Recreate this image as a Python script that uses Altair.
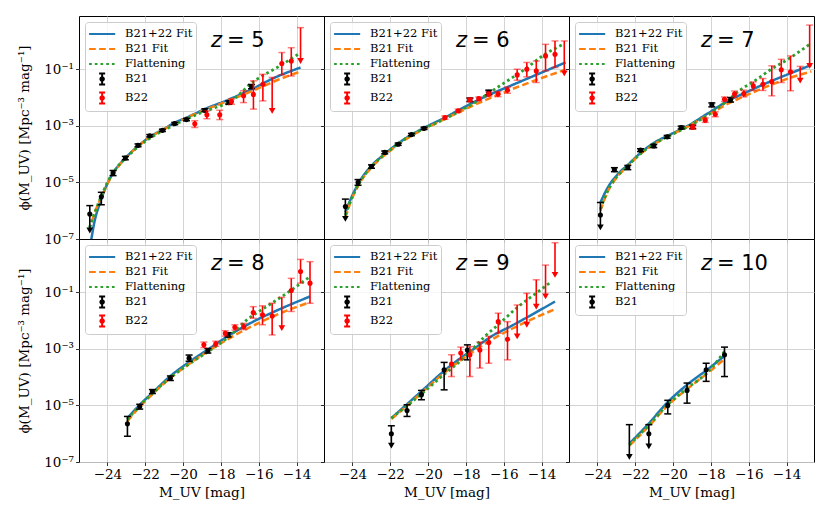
import math
import altair as alt
import pandas as pd

# ---------------- axes ----------------
X_DOMAIN = [-25.5, -12.55]
Y_DOMAIN = [1e-7, 7.6]
X_TICKS = [-24, -22, -20, -18, -16, -14]
X_TICK_LABELS = ["−24", "−22", "−20", "−18", "−16", "−14"]
Y_TICKS = [1e-7, 1e-5, 1e-3, 1e-1]
Y_TICK_LABELS = ["10⁻⁷", "10⁻⁵", "10⁻³", "10⁻¹"]
X_TITLE = "M_UV [mag]"
Y_TITLE = "ϕ(M_UV) [Mpc⁻³ mag⁻¹]"

REDSHIFTS = [5, 6, 7, 8, 9, 10]
SERIES = ["B21+22 Fit", "B21 Fit", "Flattening", "B21", "B22"]
SERIES_COLORS = ["#1f77b4", "#ff7f0e", "#2ca02c", "#000000", "#ff0000"]
Z_LABEL_POS = (-17.1, 1.0)

# ---------------- model curves: (M_UV, log10 phi) ----------------
FIT_B2122 = {
    5: [(-24.87, -7.1), (-24.67, -6.35), (-24.41, -5.76), (-24.05, -5.12), (-23.70, -4.67),
        (-23.05, -4.14), (-22.38, -3.72), (-21.76, -3.39), (-21.09, -3.14), (-20.44, -2.89),
        (-19.82, -2.71), (-18.85, -2.41), (-17.58, -2.07), (-16.38, -1.71), (-15.23, -1.32),
        (-13.79, -0.94)],
    6: [(-24.37, -6.06), (-24.05, -5.53), (-23.70, -5.06), (-22.99, -4.41), (-22.29, -4.0),
        (-21.58, -3.62), (-20.88, -3.32), (-20.17, -3.06), (-19.11, -2.71), (-18.06, -2.33),
        (-16.82, -1.92), (-15.59, -1.57), (-14.18, -1.17), (-12.73, -0.76)],
    7: [(-23.84, -5.71), (-23.45, -5.18), (-22.92, -4.71), (-22.39, -4.38), (-21.69, -3.94),
        (-20.98, -3.59), (-20.28, -3.35), (-19.22, -3.0), (-18.16, -2.56), (-17.10, -2.12),
        (-16.05, -1.79), (-14.99, -1.47), (-13.93, -1.18), (-12.69, -0.85)],
    8: [(-22.94, -5.45), (-22.29, -4.98), (-21.58, -4.53), (-20.70, -3.98), (-19.64, -3.45),
        (-18.59, -2.98), (-17.53, -2.51), (-16.29, -2.04), (-15.06, -1.65), (-13.29, -1.15)],
    9: [(-21.94, -5.45), (-21.05, -4.92), (-20.17, -4.39), (-19.29, -3.86), (-18.41, -3.39),
        (-17.53, -2.98), (-16.65, -2.56), (-15.59, -2.19), (-14.53, -1.80), (-13.29, -1.33)],
    10: [(-22.31, -6.35), (-21.34, -5.68), (-20.28, -4.88), (-19.22, -4.25), (-18.16, -3.72),
         (-17.28, -3.25)],
}
FIT_B21 = {
    5: [(-24.97, -6.72), (-24.6, -5.95), (-24.3, -5.5), (-24.0, -5.05), (-23.5, -4.5),
        (-23.0, -4.12), (-22.0, -3.52), (-21.0, -3.12), (-20.0, -2.78), (-19.0, -2.48),
        (-18.0, -2.22), (-17.0, -1.95), (-16.0, -1.67), (-15.0, -1.38), (-13.79, -1.08)],
    6: [(-24.37, -6.24), (-24.05, -5.62), (-23.70, -5.12), (-23.0, -4.48), (-22.0, -3.88),
        (-21.0, -3.40), (-20.0, -3.05), (-19.0, -2.72), (-18.0, -2.40), (-17.0, -2.10),
        (-16.0, -1.82), (-15.0, -1.56), (-14.0, -1.31), (-12.73, -1.02)],
    7: [(-23.84, -6.0), (-23.45, -5.32), (-22.92, -4.78), (-22.39, -4.42), (-21.69, -3.98),
        (-20.98, -3.64), (-20.28, -3.38), (-19.22, -3.03), (-18.16, -2.62), (-17.10, -2.22),
        (-16.05, -1.90), (-14.99, -1.60), (-13.93, -1.33), (-12.69, -1.08)],
    8: [(-22.94, -5.56), (-22.29, -5.05), (-21.58, -4.58), (-20.70, -4.05), (-19.64, -3.52),
        (-18.59, -3.05), (-17.53, -2.62), (-16.29, -2.18), (-15.06, -1.80), (-13.29, -1.35)],
    9: [(-21.94, -5.48), (-21.05, -4.98), (-20.17, -4.45), (-19.29, -3.93), (-18.41, -3.47),
        (-17.53, -3.06), (-16.65, -2.68), (-15.59, -2.30), (-14.53, -1.96), (-13.29, -1.60)],
    10: [(-22.31, -6.42), (-21.34, -5.78), (-20.28, -5.0), (-19.22, -4.40), (-18.16, -3.85),
         (-17.28, -3.36)],
}
FLATTENING = {
    5: [(-24.95, -6.6), (-24.6, -5.95), (-24.3, -5.45), (-24.0, -5.0), (-23.5, -4.48),
        (-23.0, -4.12), (-22.0, -3.55), (-21.0, -3.15), (-20.0, -2.82), (-19.0, -2.53),
        (-18.3, -2.36), (-17.5, -2.15), (-16.87, -1.79), (-16.47, -1.53), (-15.94, -1.29),
        (-14.88, -0.88), (-13.91, -0.47)],
    6: [(-24.37, -6.15), (-24.05, -5.58), (-23.70, -5.1), (-23.0, -4.45), (-22.0, -3.85),
        (-21.0, -3.37), (-20.0, -3.03), (-19.0, -2.72), (-18.06, -2.38), (-17.5, -2.17),
        (-17.0, -1.94), (-15.94, -1.47), (-14.88, -1.0), (-13.82, -0.47), (-12.85, -0.12)],
    7: [(-23.84, -5.94), (-23.45, -5.3), (-22.92, -4.76), (-22.39, -4.41), (-21.69, -3.97),
        (-20.98, -3.63), (-20.28, -3.38), (-19.22, -3.03), (-18.16, -2.62), (-17.10, -2.10),
        (-16.40, -1.71), (-15.69, -1.41), (-14.81, -1.0), (-13.93, -0.65), (-12.78, -0.12)],
    8: [(-22.94, -5.5), (-22.29, -5.0), (-21.58, -4.55), (-20.70, -4.03), (-19.64, -3.52),
        (-18.59, -3.06), (-17.53, -2.55), (-16.63, -1.98), (-15.59, -1.51), (-14.53, -1.04),
        (-13.29, -0.45)],
    9: [(-21.94, -5.45), (-21.05, -4.98), (-20.17, -4.50), (-19.29, -3.98), (-18.41, -3.50),
        (-17.70, -3.04), (-17.0, -2.56), (-16.29, -2.15), (-15.32, -1.56), (-14.18, -0.98),
        (-13.47, -0.62)],
    10: [(-22.31, -6.39), (-21.34, -5.74), (-20.28, -4.97), (-19.22, -4.38), (-18.16, -3.82),
         (-17.28, -3.09)],
}

# ---------------- measurements: (M_UV, log10 phi, log10 low, log10 high) ----------------
B21_POINTS = {
    5: [(-24.32, -5.51, -5.79, -5.35), (-23.70, -4.67, -4.76, -4.58), (-23.05, -4.14, -4.20, -4.08),
        (-22.38, -3.69, -3.74, -3.64), (-21.76, -3.35, -3.39, -3.31), (-21.09, -3.16, -3.20, -3.12),
        (-20.44, -2.92, -2.96, -2.88), (-19.82, -2.78, -2.82, -2.74), (-18.85, -2.45, -2.50, -2.40),
        (-17.58, -2.18, -2.24, -2.12), (-16.38, -1.61, -1.69, -1.54)],
    6: [(-23.70, -5.00, -5.10, -4.90), (-22.99, -4.44, -4.50, -4.38), (-22.29, -3.94, -3.99, -3.89),
        (-21.58, -3.65, -3.69, -3.61), (-20.88, -3.31, -3.35, -3.27), (-20.21, -3.09, -3.13, -3.05),
        (-17.79, -2.08, -2.14, -2.02), (-16.79, -1.82, -1.90, -1.74)],
    7: [(-23.10, -4.55, -4.62, -4.48), (-22.39, -4.47, -4.55, -4.40), (-21.72, -3.86, -3.91, -3.81),
        (-21.02, -3.71, -3.77, -3.66), (-20.31, -3.39, -3.44, -3.34), (-19.57, -3.06, -3.11, -3.01),
        (-18.96, -3.04, -3.10, -2.98), (-17.95, -2.26, -2.33, -2.19), (-16.96, -2.08, -2.16, -2.00)],
    8: [(-22.94, -5.65, -6.09, -5.39), (-22.29, -5.04, -5.13, -4.96), (-21.62, -4.51, -4.58, -4.44),
        (-20.67, -4.04, -4.12, -3.96), (-19.68, -3.33, -3.44, -3.22), (-18.69, -3.07, -3.15, -2.99),
        (-17.62, -2.51, -2.58, -2.43)],
    9: [(-21.11, -5.18, -5.39, -4.98), (-20.35, -4.62, -4.80, -4.47), (-19.15, -3.74, -4.45, -3.48),
        (-17.92, -3.04, -3.39, -2.86)],
    10: [(-20.28, -5.00, -5.30, -4.82), (-19.26, -4.47, -4.92, -4.21), (-18.25, -3.74, -4.15, -3.51),
         (-17.28, -3.21, -3.98, -2.94)],
}
B22_POINTS = {
    5: [(-19.38, -2.93, -3.06, -2.82), (-18.74, -2.61, -2.75, -2.47), (-18.06, -2.61, -2.78, -2.45),
        (-17.44, -2.14, -2.24, -2.05), (-16.80, -1.94, -2.18, -1.76), (-16.28, -1.89, -2.41, -1.41),
        (-15.78, -1.53, -2.12, -1.18), (-14.78, -0.80, -1.20, -0.41), (-14.28, -0.71, -1.24, -0.24)],
    6: [(-19.11, -2.71, -2.77, -2.65), (-18.41, -2.47, -2.53, -2.41), (-17.79, -2.08, -2.15, -2.02),
        (-17.32, -2.04, -2.11, -1.98), (-16.79, -1.88, -1.96, -1.80), (-16.30, -1.88, -1.97, -1.79),
        (-15.80, -1.74, -1.85, -1.63), (-15.29, -1.20, -1.39, -1.00), (-14.78, -1.00, -1.27, -0.76),
        (-14.28, -1.06, -1.47, -0.71), (-13.79, -0.53, -1.06, -0.12), (-13.29, -0.47, -0.94, 0.0)],
    7: [(-18.96, -3.04, -3.12, -2.96), (-18.30, -2.80, -2.88, -2.72), (-17.77, -2.59, -2.68, -2.50),
        (-17.28, -2.06, -2.14, -1.98), (-16.75, -1.88, -2.00, -1.77), (-16.26, -1.86, -1.98, -1.74),
        (-15.76, -1.59, -1.75, -1.45), (-15.25, -1.53, -1.75, -1.33), (-14.78, -1.44, -1.94, -0.88),
        (-14.28, -1.02, -1.47, -0.65), (-13.79, -1.09, -1.76, -0.53)],
    8: [(-18.90, -2.86, -2.96, -2.76), (-18.27, -2.82, -2.91, -2.73), (-17.77, -2.45, -2.55, -2.36),
        (-17.26, -2.24, -2.34, -2.15), (-16.79, -2.21, -2.32, -2.10), (-16.29, -1.72, -1.92, -1.51),
        (-15.80, -1.80, -2.15, -1.48), (-15.29, -1.84, -2.51, -1.39), (-14.28, -0.94, -1.68, -0.51),
        (-13.79, -0.27, -0.68, 0.16), (-13.29, -0.68, -1.39, 0.08)],
    9: [(-18.76, -3.54, -3.98, -3.21), (-18.27, -3.15, -3.38, -2.94), (-17.79, -3.21, -3.98, -2.92),
        (-17.26, -3.04, -3.68, -2.76), (-16.79, -2.78, -3.51, -2.56), (-16.29, -2.04, -2.45, -1.74),
        (-15.80, -2.66, -3.39, -2.04)],
    10: [],
}
# upper limits: (M_UV, log10 phi or None, log10 top of bar, log10 arrow tip)
B21_LIMITS = {
    5: [(-24.93, -6.12, -5.82, -6.70)],
    6: [(-24.37, -5.85, -5.59, -6.29)],
    7: [(-23.84, -6.15, -5.71, -6.59)],
    8: [],
    9: [(-21.94, -6.00, -5.72, -6.42)],
    10: [(-22.31, None, -5.68, -6.82), (-21.28, -6.00, -5.68, -6.45)],
}
B22_LIMITS = {
    5: [(-15.29, None, -1.29, -2.47), (-13.79, None, 0.47, -0.71)],
    6: [(-12.80, None, 0.0, -1.15)],
    7: [(-13.28, None, -0.90, -1.40), (-12.78, None, 0.56, -0.88)],
    8: [(-14.78, None, -1.18, -2.27)],
    9: [(-15.29, None, -1.45, -2.56), (-14.78, None, -1.04, -2.15), (-14.28, None, -0.56, -1.51),
        (-13.79, None, -0.04, -1.15), (-13.29, None, 0.75, -0.39)],
    10: [],
}

# legend glyphs (unit-box paths, scaled by the legend's symbol size)
LINE_SYMBOL = "M-1,0L2.3,0"
ERRBAR_SYMBOL = ("M0.65,-0.7L0.65,0.7M0.27,-0.7L1.03,-0.7M0.27,0.7L1.03,0.7"
                 "M0.87,0A0.22,0.22,0,1,1,0.43,0A0.22,0.22,0,1,1,0.87,0Z")
SERIES_SHAPES = [LINE_SYMBOL, LINE_SYMBOL, LINE_SYMBOL, ERRBAR_SYMBOL, ERRBAR_SYMBOL]
SERIES_DASHES = [[1, 0], [6.7, 3.3], [2.7, 3.0], [1, 0], [1, 0]]

SERIF = "DejaVu Serif"


def x_label_expr():
    parts = [f"datum.value == {v} ? '{lab}'" for v, lab in zip(X_TICKS, X_TICK_LABELS)]
    return " : ".join(parts) + " : ''"


def y_label_expr():
    parts = [f"abs(log(datum.value) / LN10 - ({math.log10(v):.0f})) < 0.1 ? '{lab}'"
             for v, lab in zip(Y_TICKS, Y_TICK_LABELS)]
    return " : ".join(parts) + " : ''"


def panel(z, row, col):
    bottom = row == 1
    left = col == 0
    xaxis = alt.Axis(values=X_TICKS, labels=bottom, labelExpr=x_label_expr(),
                     title=X_TITLE if bottom else None, labelFlush=False,
                     labelOverlap=False, titlePadding=4)
    yaxis = alt.Axis(values=Y_TICKS, labels=left, labelExpr=y_label_expr(),
                     title=Y_TITLE if left else None, labelOverlap=False,
                     labelFlush=False, titlePadding=12)
    xs = alt.Scale(domain=X_DOMAIN, nice=False, zero=False)
    ys = alt.Scale(type="log", domain=Y_DOMAIN, nice=False)

    def X(f):
        return alt.X(f"{f}:Q", scale=xs, axis=xaxis)

    def Y(f):
        return alt.Y(f"{f}:Q", scale=ys, axis=yaxis)

    layers = []
    # model curves
    curve_specs = [(FIT_B2122, SERIES_COLORS[0], SERIES_DASHES[0], 2.5),
                   (FIT_B21, SERIES_COLORS[1], SERIES_DASHES[1], 2.5),
                   (FLATTENING, SERIES_COLORS[2], SERIES_DASHES[2], 2.8)]
    for src, color, dash, sw in curve_specs:
        df = pd.DataFrame([{"M": m, "phi": 10 ** lp} for m, lp in src[z]])
        layers.append(alt.Chart(df).mark_line(clip=True, color=color, strokeDash=dash,
                                              strokeWidth=sw, interpolate="monotone")
                      .encode(x=X("M"), y=Y("phi")))

    # measurements
    for pts, lims, color, cap_op in [(B21_POINTS, B21_LIMITS, "#000000", 1.0),
                                     (B22_POINTS, B22_LIMITS, "#ff0000", 0.5)]:
        if pts[z]:
            df = pd.DataFrame([{"M": m, "phi": 10 ** p, "lo": 10 ** lo, "hi": 10 ** hi}
                               for m, p, lo, hi in pts[z]])
            base = alt.Chart(df)
            layers.append(base.mark_rule(color=color, strokeWidth=1.6, clip=True)
                          .encode(x=X("M"), y=Y("lo"), y2="hi"))
            for f in ("lo", "hi"):
                layers.append(base.mark_tick(orient="horizontal", color=color, size=7,
                                             thickness=1.5, opacity=cap_op, clip=True)
                              .encode(x=X("M"), y=Y(f)))
            layers.append(base.mark_circle(color=color, size=26, opacity=1, clip=True)
                          .encode(x=X("M"), y=Y("phi")))
        if lims[z]:
            df = pd.DataFrame([{"M": m, "top": 10 ** t, "tip": 10 ** tip}
                               for m, p, t, tip in lims[z]])
            base = alt.Chart(df)
            layers.append(base.mark_rule(color=color, strokeWidth=1.6, clip=True)
                          .encode(x=X("M"), y=Y("tip"), y2="top"))
            layers.append(base.mark_tick(orient="horizontal", color=color, size=7,
                                         thickness=1.5, opacity=cap_op, clip=True)
                          .encode(x=X("M"), y=Y("top")))
            layers.append(base.mark_point(shape="triangle-down", filled=True, color=color,
                                          size=45, opacity=1, clip=True)
                          .encode(x=X("M"), y=Y("tip")))
            pdf = pd.DataFrame([{"M": m, "phi": 10 ** p} for m, p, t, tip in lims[z]
                                if p is not None])
            if len(pdf):
                layers.append(alt.Chart(pdf).mark_circle(color=color, size=26, opacity=1,
                                                         clip=True)
                              .encode(x=X("M"), y=Y("phi")))

    # redshift label
    tdf = pd.DataFrame([{"M": Z_LABEL_POS[0], "phi": Z_LABEL_POS[1], "rest": f"= {z}"}])
    tb = alt.Chart(tdf)
    layers.append(tb.mark_text(text="z", font="DejaVu Sans", fontStyle="italic", fontSize=21,
                               align="right", baseline="middle", dx=-16)
                  .encode(x=X("M"), y=Y("phi")))
    layers.append(tb.mark_text(font="DejaVu Sans", fontSize=21, align="left",
                               baseline="middle", dx=-11)
                  .encode(x=X("M"), y=Y("phi"), text="rest:N"))

    # legend (drawn by the library's legend from the scales)
    n = 5 if B22_POINTS[z] or B22_LIMITS[z] else 4
    dom = SERIES[:n]
    leg = alt.Legend(title=None, orient="top-left")
    ldf = pd.DataFrame([{"M": -20.0, "phi": 1e-3, "series": s} for s in dom])
    layers.append(alt.Chart(ldf).transform_filter("datum.phi > 1e6")
                  .mark_point(filled=False, opacity=1, strokeWidth=2)
                  .encode(x=X("M"), y=Y("phi"),
                          color=alt.Color("series:N", scale=alt.Scale(domain=dom, range=SERIES_COLORS[:n]), legend=leg),
                          shape=alt.Shape("series:N", scale=alt.Scale(domain=dom, range=SERIES_SHAPES[:n]), legend=leg),
                          strokeDash=alt.StrokeDash("series:N", scale=alt.Scale(domain=dom, range=SERIES_DASHES[:n]), legend=leg)))

    return alt.layer(*layers).properties(width=245, height=223)


panels = [panel(z, i // 3, i % 3) for i, z in enumerate(REDSHIFTS)]

chart = (
    alt.concat(*panels, columns=3, spacing=0, bounds="flush")
    .resolve_scale(color="independent", shape="independent", strokeDash="independent")
    .resolve_legend(color="independent", shape="independent", strokeDash="independent")
    .properties(padding={"left": 9, "top": 7, "right": 5, "bottom": 5})
    .configure_view(stroke="black", strokeWidth=1)
    .configure_axis(grid=True, gridColor="#cfcfcf", gridWidth=0.9, domain=False,
                    tickColor="black", tickSize=3.5, tickWidth=0.8, labelPadding=2,
                    labelFont=SERIF, labelFontSize=13.5, labelColor="black",
                    titleFont=SERIF, titleFontSize=13.5, titleFontWeight="normal",
                    titleColor="black")
    .configure_legend(offset=6, padding=3, fillColor="rgba(255,255,255,0.8)",
                      strokeColor="#cccccc", cornerRadius=3, labelFont=SERIF,
                      labelFontSize=11.5, labelColor="black", symbolSize=250,
                      symbolStrokeWidth=2, rowPadding=-1.1, labelOffset=19,
                      symbolOpacity=1)
)

chart.save("out.html", embed_options={"renderer": "svg", "actions": False})
